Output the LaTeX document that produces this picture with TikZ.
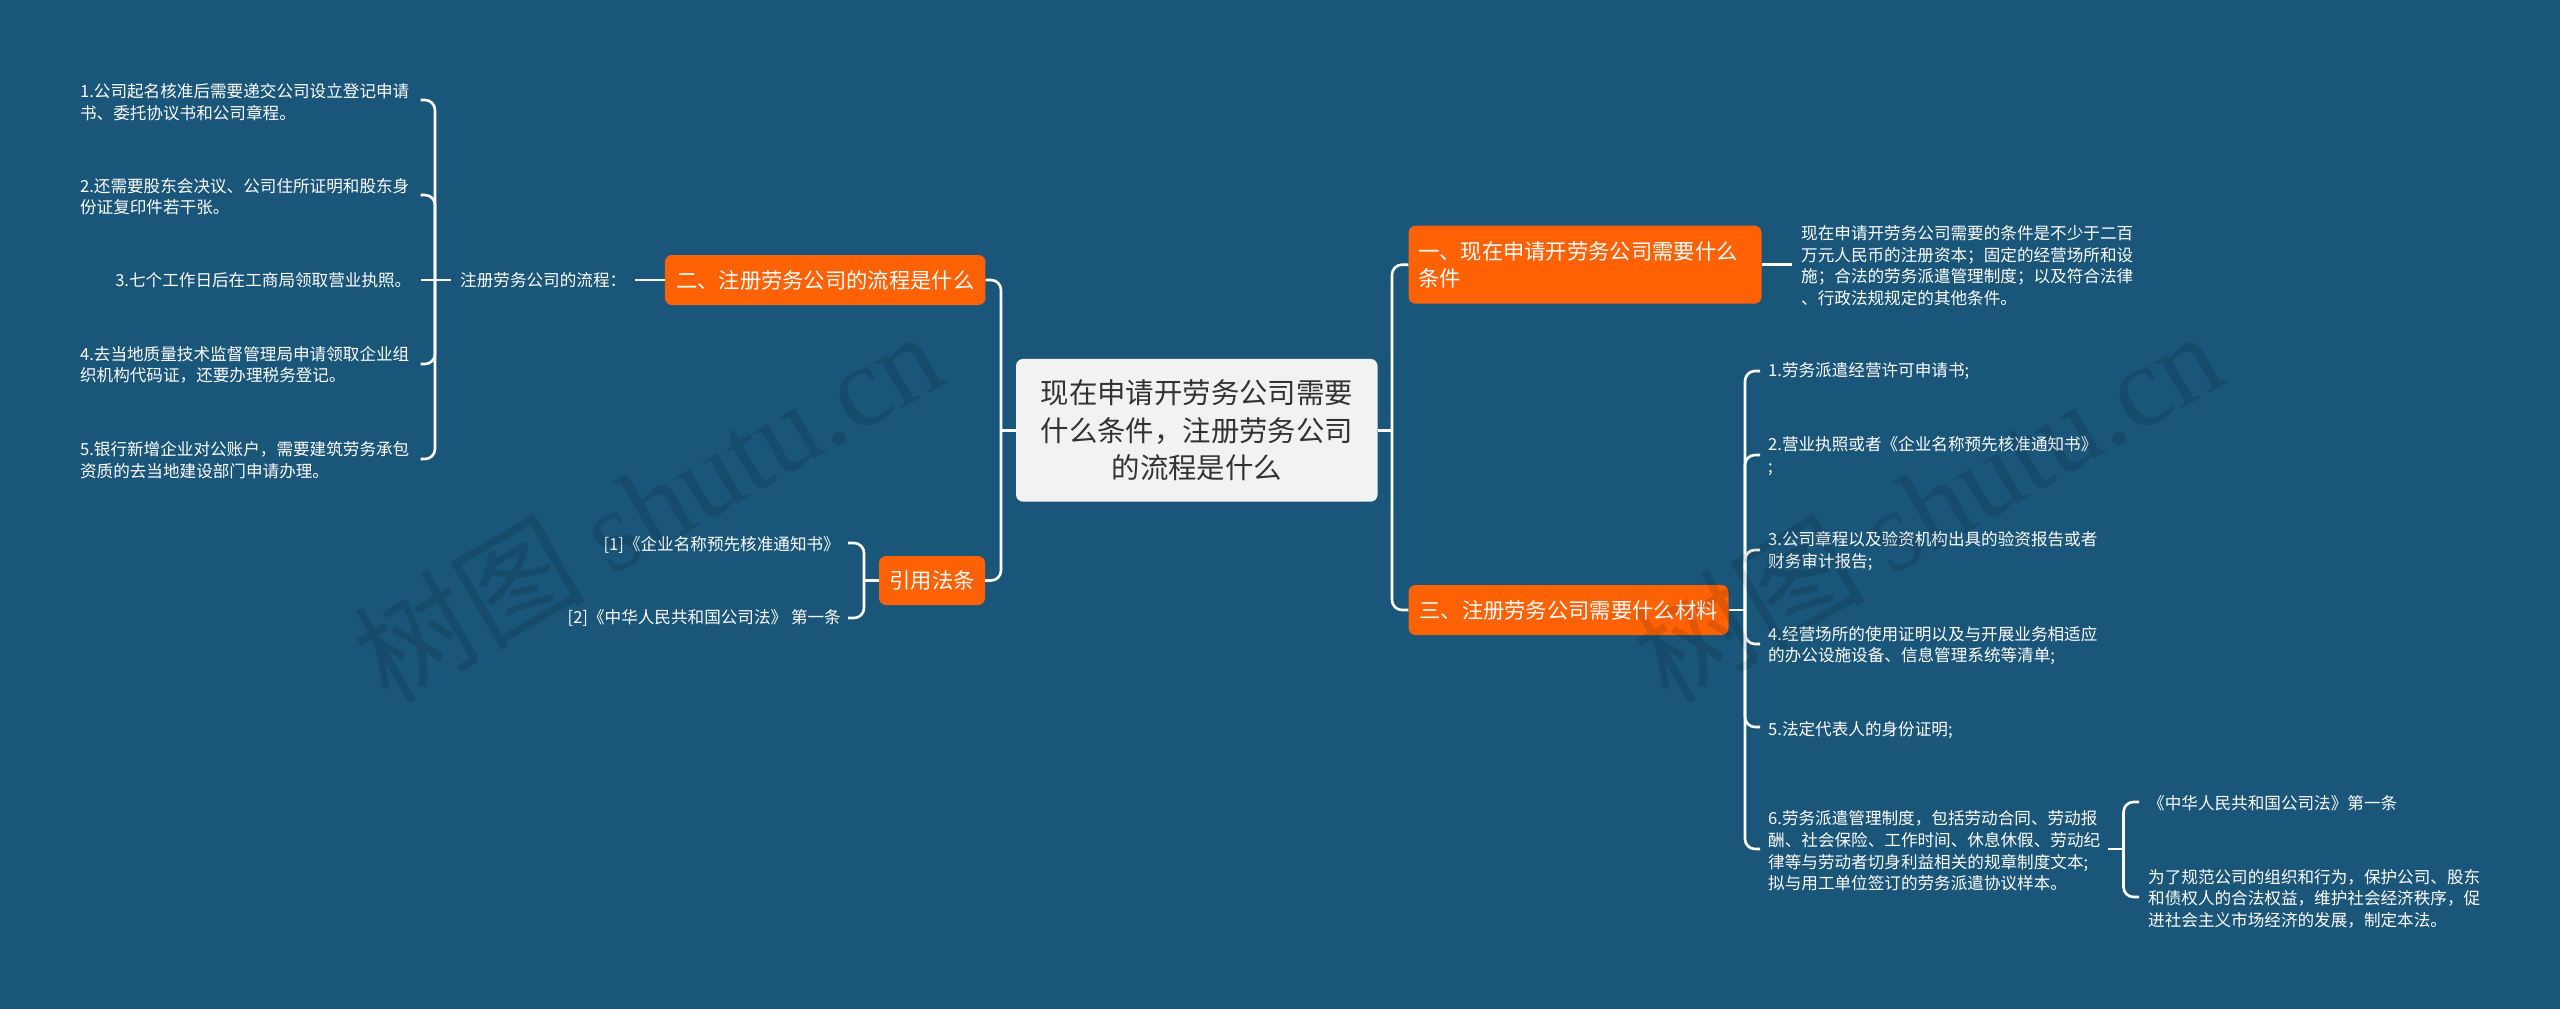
\documentclass[tikz,border=0pt]{standalone}
\usepackage{fontspec}
\setmainfont{Noto Sans CJK SC}
\newfontfamily\wmlat{Liberation Serif}
\definecolor{bgblue}{HTML}{1A557A}
\definecolor{boxorange}{HTML}{FF6105}
\definecolor{centrefill}{HTML}{F2F2F2}
\definecolor{centretext}{HTML}{333333}
\tikzset{
  conn/.style={draw=white,line width=2.6pt,rounded corners=10pt},
  small/.style={text=white,inner ysep=0pt,align=left,font=\fontsize{16.6}{21.6}\selectfont},
  orangebox/.style={fill=boxorange,text=white,rounded corners=7pt,inner ysep=0pt,anchor=center,font=\fontsize{21.3}{27}\selectfont},
  centrebox/.style={fill=centrefill,text=centretext,rounded corners=7pt,align=center,inner sep=0pt,font=\fontsize{28.4}{37.6}\selectfont},
  watermark/.style={rotate=30,text=black,text opacity=0.11,inner sep=0pt,font=\fontsize{116}{116}\selectfont}
}
\begin{document}
\begin{tikzpicture}[x=1pt,y=-1pt]
\path[use as bounding box,fill=bgblue] (0,0) rectangle (2560,1009);

% central and main nodes
\node[centrebox,minimum width=361.6pt,minimum height=142.7pt] (c) at (1196.8,430.3) {现在申请开劳务公司需要\\什么条件，注册劳务公司\\的流程是什么};
\node[orangebox,minimum width=320.5pt,minimum height=50pt] (b2) at (825.2,280) {二、注册劳务公司的流程是什么};
\node[orangebox,minimum width=106pt,minimum height=49pt] (bq) at (932,580.5) {引用法条};
\node[orangebox,minimum width=353pt,minimum height=78pt,text width=334pt,align=left,inner xsep=9.5pt] (b1) at (1585.1,264.7) {一、现在申请开劳务公司需要什么\\条件};
\node[orangebox,minimum width=320pt,minimum height=50pt] (b3) at (1568.5,610) {三、注册劳务公司需要什么材料};

% left tree
\node[small,anchor=east,inner xsep=11pt] (t1) at (420.5,102) {1.公司起名核准后需要递交公司设立登记申请\\书、委托协议书和公司章程。};
\node[small,anchor=east,inner xsep=11pt] (t2) at (420.5,196.5) {2.还需要股东会决议、公司住所证明和股东身\\份证复印件若干张。};
\node[small,anchor=east,inner xsep=9pt] (t3) at (420.5,280) {3.七个工作日后在工商局领取营业执照。};
\node[small,anchor=east,inner xsep=11pt] (t4) at (420.5,365) {4.去当地质量技术监督管理局申请领取企业组\\织机构代码证，还要办理税务登记。};
\node[small,anchor=east,inner xsep=11pt] (t5) at (420.5,460) {5.银行新增企业对公账户，需要建筑劳务承包\\资质的去当地建设部门申请办理。};
\node[small,anchor=west,inner xsep=9pt] (lbl) at (451,280) {注册劳务公司的流程：};

% citation texts
\node[small,anchor=east,inner xsep=8pt] (q1) at (848,545) {[1]《企业名称预先核准通知书》};
\node[small,anchor=east,inner xsep=7pt] (q2) at (848,618) {[2]《中华人民共和国公司法》 第一条};

% right texts
\node[small,anchor=west,inner xsep=9pt] (p1) at (1792,265.5) {现在申请开劳务公司需要的条件是不少于二百\\万元人民币的注册资本；固定的经营场所和设\\施；合法的劳务派遣管理制度；以及符合法律\\、行政法规规定的其他条件。};
\node[small,anchor=west,inner xsep=8pt] (r1) at (1760,371) {1.劳务派遣经营许可申请书;};
\node[small,anchor=west,inner xsep=8pt] (r2) at (1760,456) {2.营业执照或者《企业名称预先核准通知书》\\;};
\node[small,anchor=west,inner xsep=8pt] (r3) at (1760,551) {3.公司章程以及验资机构出具的验资报告或者\\财务审计报告;};
\node[small,anchor=west,inner xsep=8pt] (r4) at (1760,645.5) {4.经营场所的使用证明以及与开展业务相适应\\的办公设施设备、信息管理系统等清单;};
\node[small,anchor=west,inner xsep=8pt] (r5) at (1760,730) {5.法定代表人的身份证明;};
\node[small,anchor=west,inner xsep=8pt] (r6) at (1760,851) {6.劳务派遣管理制度，包括劳动合同、劳动报\\酬、社会保险、工作时间、休息休假、劳动纪\\律等与劳动者切身利益相关的规章制度文本;\\拟与用工单位签订的劳务派遣协议样本。};
\node[small,anchor=west,inner xsep=9pt] (s1) at (2139,803) {《中华人民共和国公司法》第一条};
\node[small,anchor=west,inner xsep=9pt] (s2) at (2139,898.5) {为了规范公司的组织和行为，保护公司、股东\\和债权人的合法权益，维护社会经济秩序，促\\进社会主义市场经济的发展，制定本法。};

% junctions
\coordinate (jC1) at (1001,430.3);
\coordinate (jC2) at (1392,430.3);
\coordinate (jL) at (435,280);
\coordinate (jQ) at (864,580.5);
\coordinate (jR) at (1745,610);
\coordinate (jS) at (2123.5,849);

% connectors
\draw[conn] (b2.east) -| (jC1) |- (bq.east);
\draw[conn] (c.west) -- (jC1);
\draw[conn] (b1.west) -| (jC2) |- (b3.west);
\draw[conn] (c.east) -- (jC2);
\draw[conn] (lbl.east) -- (b2.west);
\draw[conn] (t3.east) -- (lbl.west);
\draw[conn] ([yshift=2pt]t1.east) -| (jL) |- ([yshift=1pt]t5.east);
\draw[conn] ([yshift=1.5pt]t2.east) -| (jL);
\draw[conn] ([yshift=1pt]t4.east) -| (jL);
\draw[conn] ([yshift=2pt]q1.east) -| (jQ) |- (q2.east);
\draw[conn] (bq.west) -- (jQ);
\draw[conn] (b1.east) -- (b1.east -| p1.west);
\draw[conn] (b3.east) -- (jR);
\draw[conn] (r1.west) -| (jR) |- ([yshift=2pt]r6.west);
\draw[conn] ([yshift=1pt]r2.west) -| (jR);
\draw[conn] ([yshift=1pt]r3.west) -| (jR);
\draw[conn] ([yshift=1.5pt]r4.west) -| (jR);
\draw[conn] ([yshift=3pt]r5.west) -| (jR);
\draw[conn] (r6.east |- jS) -- (jS);
\draw[conn] ([yshift=1pt]s1.west) -| (jS) |- ([yshift=1.5pt]s2.west);

% watermark
\node[watermark] (w1) at (647,505) {树图 {\wmlat shutu.cn}};
\node[watermark] (w2) at (1927,505) {树图 {\wmlat shutu.cn}};
\end{tikzpicture}
\end{document}
